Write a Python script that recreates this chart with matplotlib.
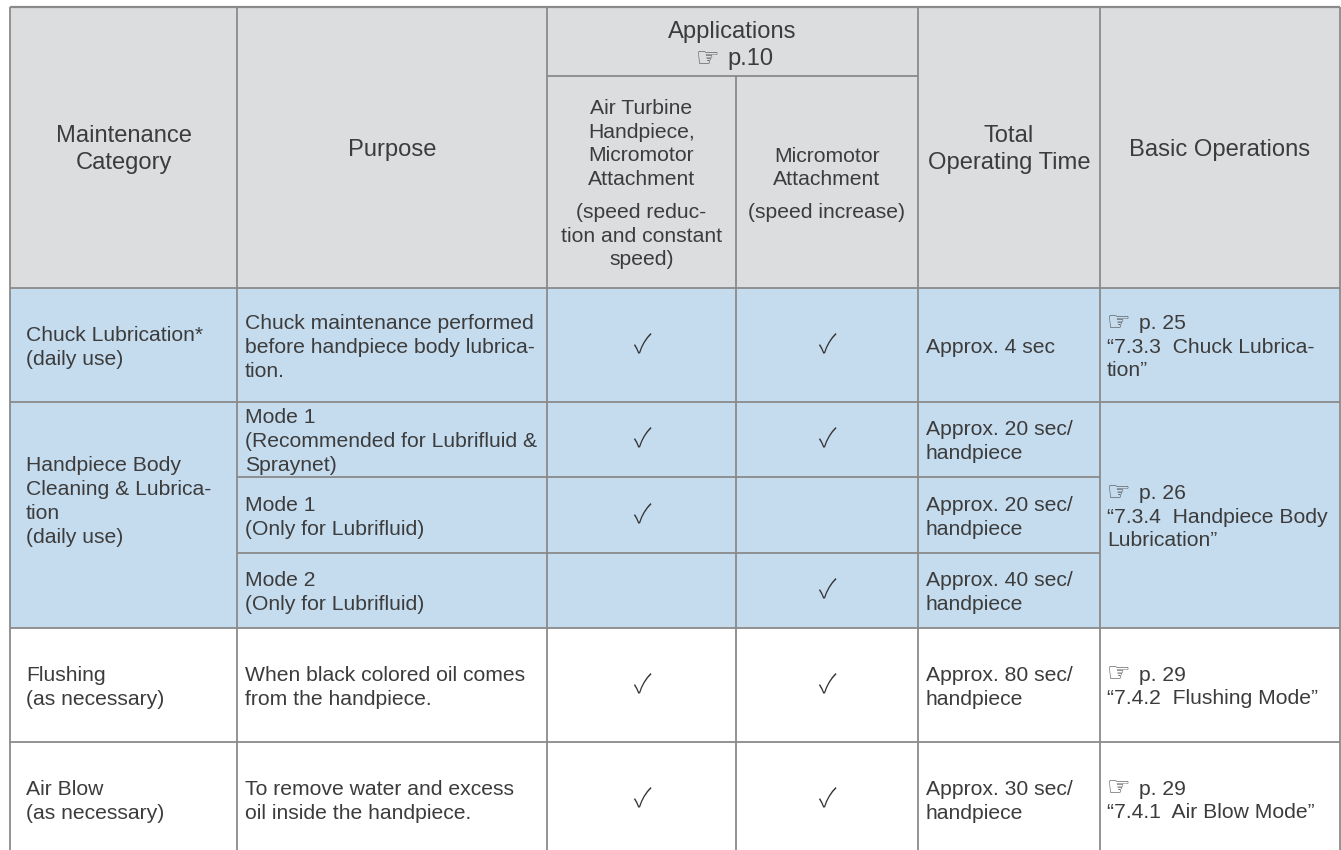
import matplotlib
matplotlib.use("Agg")
import matplotlib.pyplot as plt
from matplotlib.patches import Rectangle

plt.rcParams['font.family'] = ['Liberation Sans', 'DejaVu Sans']

# table content
header_main = ["Maintenance\nCategory", "Purpose", "Applications\n☞ p.10",
               "Total\nOperating Time", "Basic Operations"]
header_turbine = ["Air Turbine\nHandpiece,\nMicromotor\nAttachment",
                  "(speed reduc-\ntion and constant\nspeed)"]
header_micro = ["Micromotor\nAttachment", "(speed increase)"]

categories = ["Chuck Lubrication*\n(daily use)",
              "Handpiece Body\nCleaning & Lubrica-\ntion\n(daily use)",
              "Flushing\n(as necessary)",
              "Air Blow\n(as necessary)"]
category_rows = [[0], [1, 2, 3], [4], [5]]

purposes = ["Chuck maintenance performed\nbefore handpiece body lubrica-\ntion.",
            "Mode 1\n(Recommended for Lubrifluid &\nSpraynet)",
            "Mode 1\n(Only for Lubrifluid)",
            "Mode 2\n(Only for Lubrifluid)",
            "When black colored oil comes\nfrom the handpiece.",
            "To remove water and excess\noil inside the handpiece."]
turbine_ok = [True, True, True, False, True, True]
micro_ok = [True, True, False, True, True, True]
times = ["Approx. 4 sec",
         "Approx. 20 sec/\nhandpiece",
         "Approx. 20 sec/\nhandpiece",
         "Approx. 40 sec/\nhandpiece",
         "Approx. 80 sec/\nhandpiece",
         "Approx. 30 sec/\nhandpiece"]
operations = ["☞ p. 25\n“7.3.3  Chuck Lubrica-\ntion”",
              "☞ p. 26\n“7.3.4  Handpiece Body\nLubrication”",
              "☞ p. 29\n“7.4.2  Flushing Mode”",
              "☞ p. 29\n“7.4.1  Air Blow Mode”"]
shaded_rows = [True, True, True, True, False, False]

# layout (pixels)
W, H = 1341, 850
col_x = [10, 237, 547, 736, 918, 1100, 1340]
top, sub_y, head_bot = 7, 76, 288
row_y = [288, 402, 477, 553, 628, 742, 856]
cat_center = [345, 499, 685, 799]

grey_bg = "#dcdddf"
blue_bg = "#c5dcef"
line_c = "#8a8a8a"
text_c = "#3c3c3c"

fig = plt.figure(figsize=(W / 100, H / 100), dpi=100)
ax = fig.add_axes([0, 0, 1, 1])
ax.set_xlim(0, W)
ax.set_ylim(H, 0)
ax.axis("off")

HEAD_PX, BODY_PX = 23.7, 21.2
HAND = "☞"


def hand(x, y, ha):
    ax.text(x, y + 1, HAND, fontsize=19, color="#505050", ha=ha,
            va="baseline", family="DejaVu Sans")


def block(x, yc, txt, px, lh, ha="left"):
    lines = txt.split("\n")
    cap = 0.716 * px
    b0 = yc + cap / 2 - (len(lines) - 1) * lh / 2
    for i, s in enumerate(lines):
        y = b0 + i * lh
        if s.startswith(HAND):
            rest = s[1:].strip()
            if ha == "center":
                hand(x - 13, y, "right")
                ax.text(x - 5, y, rest, fontsize=px * 0.72, color=text_c,
                        ha="left", va="baseline")
            else:
                hand(x, y, "left")
                ax.text(x + 32, y, rest, fontsize=px * 0.72, color=text_c,
                        ha="left", va="baseline")
            continue
        ax.text(x, y, s, fontsize=px * 0.72, color=text_c,
                ha=ha, va="baseline")


# backgrounds
ax.add_patch(Rectangle((col_x[0], top), col_x[-1] - col_x[0], head_bot - top,
                       color=grey_bg, lw=0))
for i, sh in enumerate(shaded_rows):
    ax.add_patch(Rectangle((col_x[0], row_y[i]), col_x[-1] - col_x[0],
                           row_y[i + 1] - row_y[i],
                           color=blue_bg if sh else "white", lw=0))

# grid lines
lw = 1.3
ax.hlines(top, col_x[0], col_x[-1], color=line_c, lw=1.6)
ax.hlines(sub_y, col_x[2], col_x[4], color=line_c, lw=lw)
for i, y in enumerate(row_y[:-1]):
    if i in (2, 3):
        ax.hlines(y, col_x[1], col_x[5], color=line_c, lw=lw)
    else:
        ax.hlines(y, col_x[0], col_x[-1], color=line_c, lw=lw)
for j, x in enumerate(col_x):
    y0 = sub_y if j == 3 else top
    ax.vlines(x, y0, row_y[-1], color=line_c, lw=lw)

# header
hc = (top + head_bot) / 2
block((col_x[0] + col_x[1]) / 2, hc, header_main[0], HEAD_PX, 27, "center")
block((col_x[1] + col_x[2]) / 2, hc, header_main[1], HEAD_PX, 27, "center")
block((col_x[2] + col_x[4]) / 2, 43, header_main[2], HEAD_PX, 27, "center")
block((col_x[4] + col_x[5]) / 2, hc, header_main[3], HEAD_PX, 27, "center")
block((col_x[5] + col_x[6]) / 2, hc, header_main[4], HEAD_PX, 27, "center")
block((col_x[2] + col_x[3]) / 2, 142, header_turbine[0], BODY_PX, 23.7, "center")
block((col_x[2] + col_x[3]) / 2, 234, header_turbine[1], BODY_PX, 23.7, "center")
block((col_x[3] + col_x[4]) / 2, 166, header_micro[0], BODY_PX, 23.7, "center")
block((col_x[3] + col_x[4]) / 2, 210, header_micro[1], BODY_PX, 23.7, "center")

# body
for k, rows in enumerate(category_rows):
    block(col_x[0] + 16, cat_center[k], categories[k], BODY_PX, 24)
    yc = (row_y[rows[0]] + row_y[rows[-1] + 1]) / 2
    block(col_x[5] + 7, yc, operations[k], BODY_PX, 23.5)

for i in range(len(purposes)):
    yc = (row_y[i] + row_y[i + 1]) / 2
    block(col_x[1] + 8, yc, purposes[i], BODY_PX, 24)
    block(col_x[4] + 8, yc, times[i], BODY_PX, 24)
    for ok, c in ((turbine_ok[i], 2), (micro_ok[i], 3)):
        if ok:
            ax.text((col_x[c] + col_x[c + 1]) / 2, yc, "✓", fontsize=19,
                    color="#333333", ha="center", va="center",
                    family=["Noto Sans CJK JP", "DejaVu Sans"],
                    fontweight="light")

fig.savefig("out.png", dpi=100)
